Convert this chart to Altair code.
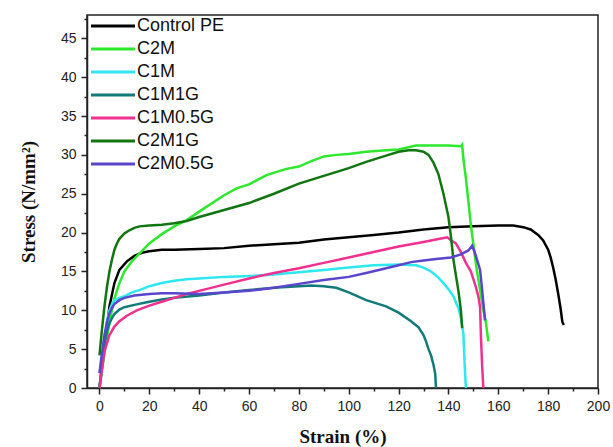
import altair as alt
import pandas as pd

series_names = ["Control PE", "C2M", "C1M", "C1M1G", "C1M0.5G", "C2M1G", "C2M0.5G"]
series_colors = ["#000000", "#2ee82e", "#2ee8f0", "#137a7a", "#f0308f", "#117511", "#5a45cc"]

pe_x = [0, 2, 4, 6, 8, 11, 14, 17, 20, 25, 30, 40, 50, 60, 70, 80, 90, 100, 110, 120, 130, 140, 150, 160, 166, 170, 173, 176, 178, 180, 181, 182, 183, 184, 185, 185.7, 186.3]
pe_y = [0, 5, 10.5, 13.5, 15.2, 16.3, 17.0, 17.4, 17.6, 17.8, 17.8, 17.9, 18.0, 18.3, 18.5, 18.7, 19.1, 19.4, 19.7, 20.0, 20.4, 20.7, 20.8, 20.9, 20.9, 20.7, 20.4, 19.7, 19.0, 17.8, 16.8, 15.5, 14.0, 12.2, 10.2, 8.5, 8.1]

c2m_x = [0, 2, 4, 6, 8, 10, 13, 16, 20, 25, 30, 35, 40, 50, 55, 60, 67, 75, 80, 85, 90, 95, 100, 107, 115, 120, 127, 135, 140, 145, 145.5, 146, 147, 148, 149, 150, 151, 152, 153, 154, 155, 156]
c2m_y = [0, 4.5, 8.5, 11.5, 13.5, 15.0, 16.3, 17.3, 18.6, 19.8, 20.8, 21.6, 22.7, 24.8, 25.7, 26.2, 27.4, 28.2, 28.5, 29.2, 29.8, 30.0, 30.1, 30.4, 30.6, 30.7, 31.2, 31.2, 31.2, 31.1, 31.3, 29.5, 27.0, 24.0, 21.0, 18.5, 16.0, 14.0, 12.0, 10.0, 8.5, 6.0]

c1m_x = [0, 1, 2, 3, 4, 5, 6, 8, 10, 13, 16, 20, 25, 30, 35, 40, 50, 60, 70, 80, 90, 100, 110, 120, 127, 130, 133, 136, 138, 140, 142, 143, 144, 145, 146, 146.5, 147]
c1m_y = [0, 3, 6, 8.5, 10, 10.8, 11.3, 11.6, 11.8, 12.3, 12.6, 13.1, 13.5, 13.8, 14.0, 14.1, 14.3, 14.4, 14.6, 14.9, 15.2, 15.5, 15.8, 15.9, 15.8, 15.5, 15.0, 14.2, 13.5, 12.7, 11.8, 11.0, 10.3, 9.0, 7.0, 3.0, 0]

c1m1g_x = [0, 1, 2, 3, 4, 5, 6, 8, 10, 14, 20, 25, 30, 40, 50, 60, 70, 80, 85, 90, 95, 100, 107, 115, 120, 125, 128, 130, 131, 132, 133, 134, 134.7, 135]
c1m1g_y = [0, 3, 5.5, 7.3, 8.3, 9.0, 9.5, 10.1, 10.4, 10.7, 11.1, 11.4, 11.6, 11.9, 12.3, 12.6, 12.9, 13.1, 13.2, 13.1, 12.9, 12.3, 11.3, 10.5, 9.7, 8.6, 7.8, 6.8, 6.0, 5.0, 4.2, 3.0, 1.8, 0]

c1m05g_x = [0, 1, 2, 4, 6, 8, 11, 15, 20, 25, 30, 35, 40, 50, 60, 70, 80, 90, 100, 110, 120, 130, 135, 139.5, 141, 143, 145, 147, 149, 150, 151, 152, 152.7, 153, 153.5, 154]
c1m05g_y = [0, 2.5, 4.7, 6.8, 7.9, 8.6, 9.3, 10.0, 10.6, 11.1, 11.6, 12.1, 12.5, 13.3, 14.1, 14.8, 15.4, 16.1, 16.8, 17.5, 18.2, 18.8, 19.1, 19.4, 19.0, 18.6, 17.5, 16.1, 15.0, 14.0, 13.0, 11.8, 10.4, 7.0, 3.0, 0]

c2m1g_x = [0, 1, 2, 3, 4, 5, 6, 7, 8, 10, 12, 14, 16, 20, 25, 30, 35, 40, 50, 60, 70, 80, 90, 100, 107, 115, 120, 124, 127, 130, 132, 134, 136, 138, 140, 141, 142, 143, 144, 145, 145.5]
c2m1g_y = [4.2, 7.5, 10.5, 13.0, 15.0, 16.5, 17.8, 18.6, 19.2, 19.9, 20.3, 20.6, 20.8, 20.9, 21.0, 21.2, 21.5, 22.0, 22.9, 23.8, 25.0, 26.3, 27.3, 28.3, 29.1, 29.9, 30.4, 30.6, 30.6, 30.4, 30.0, 29.0, 27.5, 25.0, 22.0, 19.5, 16.5, 14.5, 12.5, 10.0, 7.7]

c2m05g_x = [0, 1, 2, 3, 4, 5, 6, 8, 10, 14, 20, 25, 30, 40, 50, 60, 70, 80, 90, 100, 107, 115, 120, 125, 130, 135, 141, 145, 148, 149.5, 150.5, 151.5, 152.7, 153.4, 154, 154.7]
c2m05g_y = [1.9, 4.5, 6.8, 8.5, 9.6, 10.3, 10.8, 11.3, 11.6, 11.9, 12.1, 12.2, 12.2, 12.1, 12.3, 12.5, 12.9, 13.4, 13.9, 14.3, 14.8, 15.4, 15.8, 16.2, 16.4, 16.6, 16.8, 17.2, 17.7, 18.3, 17.5, 16.5, 15.2, 13.0, 11.0, 8.7]

x_ticks = [0, 20, 40, 60, 80, 100, 120, 140, 160, 180, 200]
x_minor = [10, 30, 50, 70, 90, 110, 130, 150, 170, 190]
y_ticks = [0, 5, 10, 15, 20, 25, 30, 35, 40, 45]
y_minor = [2.5, 7.5, 12.5, 17.5, 22.5, 27.5, 32.5, 37.5, 42.5, 47.5]

all_x = [pe_x, c2m_x, c1m_x, c1m1g_x, c1m05g_x, c2m1g_x, c2m05g_x]
all_y = [pe_y, c2m_y, c1m_y, c1m1g_y, c1m05g_y, c2m1g_y, c2m05g_y]

rows = []
for name, xs, ys in zip(series_names, all_x, all_y):
    for i, (xv, yv) in enumerate(zip(xs, ys)):
        rows.append({"series": name, "strain": xv, "stress": yv, "idx": i})
df = pd.DataFrame(rows)

xscale = alt.Scale(domain=[-5, 200], nice=False, zero=False)
yscale = alt.Scale(domain=[0, 48], nice=False)

color = alt.Color(
    "series:N",
    scale=alt.Scale(domain=series_names, range=series_colors),
    sort=series_names,
    legend=alt.Legend(
        title=None,
        orient="none",
        legendX=17,
        legendY=2,
        symbolType="M-3,0H3",
        symbolSize=215,
        symbolStrokeWidth=3,
        labelOffset=15,
        labelFont="Liberation Sans",
        labelFontSize=18,
        labelColor="#111111",
        rowPadding=5,
        padding=0,
    ),
)

lines = alt.Chart(df).mark_line(strokeWidth=2.5).encode(
    x=alt.X(
        "strain:Q",
        scale=xscale,
        axis=alt.Axis(values=x_ticks, title="Strain (%)", orient="bottom"),
    ),
    y=alt.Y(
        "stress:Q",
        scale=yscale,
        axis=alt.Axis(values=y_ticks, title="Stress (N/mm²)", orient="left"),
    ),
    color=color,
    order=alt.Order("idx:Q"),
    detail="series:N",
)

minor = alt.Chart(df).mark_line(opacity=0).encode(
    x=alt.X(
        "strain:Q",
        scale=xscale,
        axis=alt.Axis(values=x_minor, labels=False, title=None, tickSize=3,
                      domain=False, orient="bottom"),
    ),
    y=alt.Y(
        "stress:Q",
        scale=yscale,
        axis=alt.Axis(values=y_minor, labels=False, title=None, tickSize=3,
                      domain=False, orient="left"),
    ),
    detail="series:N",
)

chart = (
    alt.layer(lines, minor)
    .resolve_axis(x="independent", y="independent")
    .properties(
        width=511,
        height=373,
        autosize=alt.AutoSizeParams(type="none"),
        padding={"left": 87, "top": 15, "right": 15, "bottom": 59},
    )
    .configure_view(stroke="#222222", strokeWidth=1.5)
    .configure_axis(
        grid=False,
        domainColor="#222222",
        domainWidth=1.5,
        tickColor="#222222",
        tickWidth=1.5,
        tickSize=6,
        labelFont="Liberation Sans",
        labelFontSize=14,
        labelColor="#222222",
        labelPadding=5,
        labelFlush=False,
        titleFont="Liberation Serif",
        titleFontWeight="bold",
        titleFontSize=19,
        titleColor="#111111",
    )
    .configure_axisX(titlePadding=14)
    .configure_axisY(titlePadding=22)
)

chart.save("out.html", embed_options={"renderer": "svg", "actions": False})
